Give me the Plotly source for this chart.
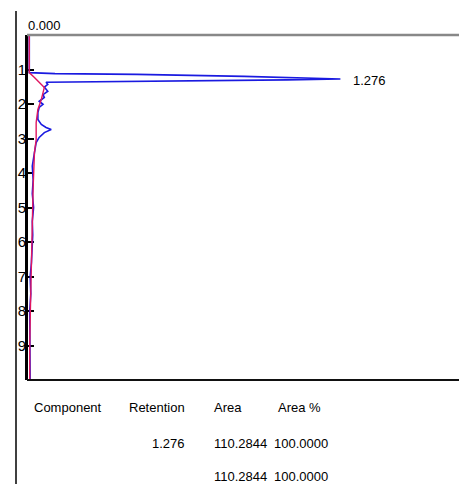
import plotly.graph_objects as go

# Chromatogram drawn sideways: retention time (min) runs down, detector signal runs right.
blue_time = [0.00, 1.09, 1.12, 1.14, 1.20, 1.25, 1.276, 1.30, 1.32, 1.34, 1.36, 1.37, 1.43,
             1.51, 1.63, 1.73, 1.81, 1.92, 2.01, 2.10, 2.25, 2.45, 2.59, 2.68, 2.74, 2.83,
             2.97, 3.12, 3.41, 3.80, 4.20, 4.60, 5.00, 5.40, 5.80, 6.20, 6.60, 7.00, 7.50,
             8.00, 8.50, 9.00, 9.50, 10.00]
blue_signal = [0.0, 0.0, 6.0, 25.0, 50.0, 68.0, 72.4, 60.0, 40.0, 21.3, 7.4, 3.9, 4.3,
               3.5, 4.3, 3.2, 3.5, 2.3, 3.2, 2.3, 2.0, 2.0, 2.8, 3.9, 5.1, 3.5,
               2.3, 1.6, 1.2, 0.7, 0.9, 0.7, 1.0, 0.7, 0.8, 0.7, 0.5, 0.2, 0.35,
               0.1, 0.1, 0.2, 0.2, 0.2]

red_time = [0.00, 1.09, 1.23, 1.37, 1.52, 1.67, 1.87, 2.16, 2.54, 3.03, 3.41, 4.39,
            5.33, 6.30, 7.00, 8.00, 9.00, 10.00]
red_signal = [0.0, 0.0, 1.2, 2.3, 3.5, 3.2, 2.8, 2.0, 1.6, 1.6, 1.2, 0.9,
              0.7, 0.5, 0.35, 0.25, 0.1, 0.1]

time_ticks = [1, 2, 3, 4, 5, 6, 7, 8, 9]
peak_time = 1.276
peak_signal = 72.4

table_header = ["Component", "Retention", "Area", "Area %"]
table_row = ["", "1.276", "110.2844", "100.0000"]
table_total = ["", "", "110.2844", "100.0000"]

W, H = 459, 484
fig = go.Figure()
fig.add_trace(go.Scatter(x=blue_signal, y=blue_time, mode="lines",
                         line=dict(color="#1a1ae0", width=1.6), hoverinfo="skip"))
fig.add_trace(go.Scatter(x=red_signal, y=red_time, mode="lines",
                         line=dict(color="#e01660", width=1.4), hoverinfo="skip"))

x0_px, x1_px = 28, 459
top_px, bot_px = 35, 380
fig.update_layout(
    width=W, height=H, margin=dict(l=0, r=0, t=0, b=0),
    paper_bgcolor="white", plot_bgcolor="white", showlegend=False,
    font=dict(family="Liberation Sans, Arial, sans-serif", color="black"),
    xaxis=dict(domain=[x0_px / W, 1], range=[-0.3, 100], showgrid=False,
               zeroline=False, showticklabels=False, ticks="", showline=False),
    yaxis=dict(domain=[1 - bot_px / H, 1 - top_px / H], range=[10, 0],
               tickvals=time_ticks, ticktext=[str(t) for t in time_ticks],
               ticks="inside", ticklen=6, tickwidth=1.5, tickcolor="black",
               ticklabelstandoff=-4,
               tickfont=dict(size=15), showgrid=False, zeroline=False,
               showline=True, linecolor="black", linewidth=3, layer="below traces"),
)

# frame: grey top rule, black bottom rule, outer left rule
fig.add_shape(type="line", xref="paper", yref="paper", x0=(x0_px - 1) / W, x1=1,
              y0=1 - top_px / H, y1=1 - top_px / H, line=dict(color="#888888", width=2.5))
fig.add_shape(type="line", xref="paper", yref="paper", x0=(x0_px - 1) / W, x1=1,
              y0=1 - bot_px / H, y1=1 - bot_px / H, line=dict(color="#111111", width=2))
fig.add_shape(type="line", xref="paper", yref="paper", x0=16 / W, x1=16 / W,
              y0=0, y1=1 - 11 / H, line=dict(color="black", width=1.5))

fig.add_annotation(x=0, y=1 - top_px / H, xref="x", yref="paper", text="0.000",
                   showarrow=False, xanchor="left", yanchor="bottom", yshift=0, xshift=-3,
                   font=dict(size=13))
fig.add_annotation(x=peak_signal, y=peak_time, xref="x", yref="y", text=f"{peak_time:.3f}",
                   showarrow=False, xanchor="left", yanchor="middle", xshift=11, yshift=-1,
                   font=dict(size=13))

# results table below the trace
col_center = [68, 157, 228, 299]
col_right = [None, 187, 269, 330]
for i, txt in enumerate(table_header):
    fig.add_annotation(x=col_center[i] / W, y=1 - 407 / H, xref="paper", yref="paper",
                       text=txt, showarrow=False, xanchor="center", yanchor="middle",
                       font=dict(size=13))
for row, ypx in ((table_row, 443), (table_total, 476)):
    for i, txt in enumerate(row):
        if txt:
            fig.add_annotation(x=col_right[i] / W, y=1 - ypx / H, xref="paper", yref="paper",
                               text=txt, showarrow=False, xanchor="right", yanchor="middle",
                               font=dict(size=13))

fig.write_html("out.html")
